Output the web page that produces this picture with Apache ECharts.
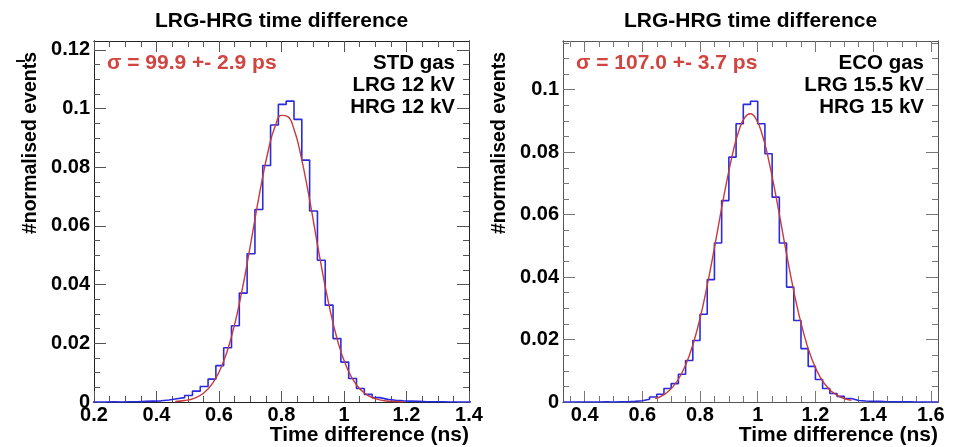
<!DOCTYPE html>
<html><head><meta charset="utf-8">
<script src="https://cdn.jsdelivr.net/npm/echarts@6/dist/echarts.min.js"></script>
<style>html,body{margin:0;padding:0;background:#fff}#c{width:957px;height:447px}</style>
</head><body><div id="c"></div>
<script>
// ---------- data ----------
const leftBinEdges = [0.19,0.215,0.24,0.265,0.29,0.315,0.34,0.365,0.39,0.415,0.44,0.465,0.49,0.515,0.54,0.565,0.59,0.615,0.64,0.665,0.69,0.715,0.74,0.765,0.79,0.815,0.84,0.865,0.89,0.915,0.94,0.965,0.99,1.015,1.04,1.065,1.09,1.115,1.14,1.165,1.19,1.215,1.24,1.265,1.29,1.315,1.34,1.365,1.39,1.415];
const leftBinValues = [0,0,0.0001,0,0.0001,0.0001,0.0002,0.0003,0.0004,0.0007,0.0011,0.0015,0.0022,0.0037,0.0053,0.0078,0.0124,0.0185,0.026,0.0371,0.0505,0.0656,0.0806,0.0944,0.1014,0.1025,0.0963,0.0824,0.0651,0.0483,0.033,0.0216,0.0136,0.008,0.0046,0.0026,0.0015,0.0009,0.0006,0.0004,0.0003,0.0002,0.0001,0.0001,0.0001,0,0,0,0];
const leftFitX = [0.46,0.49,0.52,0.55,0.58,0.61,0.64,0.67,0.70,0.73,0.76,0.78,0.80,0.82,0.84,0.86,0.89,0.92,0.95,0.98,1.01,1.04,1.07,1.10,1.13,1.16,1.19];
const leftFitY = [0.00017,0.00049,0.00126,0.00298,0.0064,0.01251,0.02229,0.03605,0.0531,0.0712,0.0868,0.0940,0.09767,0.09726,0.0929,0.0850,0.0689,0.0507,0.0340,0.0207,0.0115,0.0058,0.00267,0.00112,0.00042,0.00015,0.00005];

const rightBinEdges = [0.325,0.35,0.375,0.4,0.425,0.45,0.475,0.5,0.525,0.55,0.575,0.6,0.625,0.65,0.675,0.7,0.725,0.75,0.775,0.8,0.825,0.85,0.875,0.9,0.925,0.95,0.975,1.0,1.025,1.05,1.075,1.1,1.125,1.15,1.175,1.2,1.225,1.25,1.275,1.3,1.325,1.35,1.375,1.4,1.425,1.45,1.475,1.5,1.525,1.55,1.575,1.6,1.625];
const rightBinValues = [0,0,0,0,0,0.0001,0,0.0001,0.0001,0.0002,0.0004,0.0009,0.0016,0.0025,0.0043,0.0059,0.0089,0.0133,0.0197,0.0281,0.0392,0.0509,0.0645,0.0784,0.0891,0.0953,0.0963,0.0891,0.0795,0.0656,0.0509,0.0368,0.0261,0.0171,0.0114,0.0072,0.0043,0.0027,0.0018,0.0011,0.0005,0.0003,0.0002,0.0002,0.0001,0.0001,0.0001,0.0001,0,0,0,0];
const rightFitX = [0.645,0.675,0.705,0.735,0.765,0.795,0.825,0.855,0.885,0.915,0.935,0.955,0.975,0.995,1.015,1.035,1.065,1.095,1.125,1.155,1.185,1.215,1.245,1.275,1.305,1.325];
const rightFitY = [0.00108,0.00235,0.00475,0.00888,0.01544,0.02493,0.03735,0.05192,0.06702,0.08032,0.08695,0.09107,0.09228,0.09047,0.08581,0.07874,0.06506,0.0499,0.03552,0.02348,0.01441,0.0082,0.00434,0.00213,0.00097,0.00055];

const leftXTicks = [0.2,0.4,0.6,0.8,1,1.2,1.4];
const leftYTicks = [0,0.02,0.04,0.06,0.08,0.1,0.12];
const rightXTicks = [0.4,0.6,0.8,1,1.2,1.4,1.6];
const rightYTicks = [0,0.02,0.04,0.06,0.08,0.1];

const leftXRange = [0.2,1.4], leftYRange = [0,0.123];
const rightXRange = [0.325,1.625], rightYRange = [0,0.1156];

const titleText = 'LRG-HRG time difference';
const xTitle = 'Time difference (ns)';
const yTitle = '#normalised events';
const leftSigma = 'σ = 99.9 +- 2.9 ps';
const rightSigma = 'σ = 107.0 +- 3.7 ps';
const leftLegend = ['STD gas','LRG 12 kV','HRG 12 kV'];
const rightLegend = ['ECO gas','LRG 15.5 kV','HRG 15 kV'];

// ---------- helpers ----------
const FONT = '"Liberation Sans", Arial, Helvetica, sans-serif';
function rangeVals(min,max,step){const o=[];const k0=Math.ceil(min/step-1e-9);for(let k=k0;k*step<=max+1e-9;k++)o.push(+(k*step).toFixed(6));return o;}
function minorsOf(min,max,step,majors){return rangeVals(min,max,step).filter(v=>!majors.some(m=>Math.abs(m-v)<1e-9));}
function axes(dim,grid,rng,majors,minorStep,frameColor,tickColor,majorLen,minorLen){
  const pos = dim==='x'?['bottom','top']:['left','right'];
  const minors = minorsOf(rng[0],rng[1],minorStep,majors);
  const base = {type:'value',gridIndex:grid,min:rng[0],max:rng[1],splitLine:{show:false},
    axisLine:{show:true,onZero:false,lineStyle:{color:frameColor,width:1}}};
  const lab = {show:true,customValues:majors,fontFamily:FONT,fontWeight:'bold',fontSize:20,color:'#000',
    margin:dim==='x'?3:4,formatter:v=>String(+(+v).toFixed(6))};
  const mk=(p,vals,len,label)=>Object.assign({},base,{position:p,
    axisTick:{show:true,inside:true,length:len,customValues:vals,lineStyle:{color:tickColor,width:1}},
    axisLabel:label||{show:false}});
  return [mk(pos[0],majors,majorLen,lab),mk(pos[1],majors,majorLen),mk(pos[0],minors,minorLen),mk(pos[1],minors,minorLen)];
}
function histPts(edges,vals){return edges.map((e,i)=>[e,i<vals.length?vals[i]:vals[vals.length-1]]);}
function fitPts(xs,ys){return xs.map((x,i)=>[x,ys[i]]);}

const G = [{left:94,top:41,width:375,height:361},{left:563,top:41,width:375,height:361}];

function txt(x,y,text,opt){return Object.assign({type:'text',x:x,y:y,style:Object.assign({text:text,font:'bold 20px '+FONT,fill:'#000',textAlign:'left',textVerticalAlign:'middle'},opt||{})});}

const graphics = [];
[[0,leftSigma,leftLegend],[1,rightSigma,rightLegend]].forEach(([gi,sig,leg])=>{
  const g=G[gi]; const cx=g.left+g.width/2, right=g.left+g.width, bottom=g.top+g.height;
  graphics.push(txt(cx,21.5,titleText,{textAlign:'center',font:'bold 21px '+FONT}));
  graphics.push(txt(g.left+13,63,sig,{fill:'#d2443f',font:'bold 21px '+FONT}));
  leg.forEach((t,i)=>graphics.push(txt(right-14,63+22*i,t,{textAlign:'right',font:'bold 20.5px '+FONT})));
  graphics.push(txt(right,435,xTitle,{textAlign:'right',font:'bold 21px '+FONT}));
  graphics.push(Object.assign(txt(g.left-63,52,yTitle,{textAlign:'right',font:'bold 19.5px '+FONT}),{rotation:Math.PI/2}));
});
graphics.push({type:'line',shape:{x1:16,y1:61,x2:25,y2:61},style:{stroke:'#111',lineWidth:2}});

const option = {
  animation:false,
  backgroundColor:'#fff',
  grid:G.map(g=>Object.assign({containLabel:false,outerBoundsMode:'none'},g)),
  xAxis:[...axes('x',0,leftXRange,leftXTicks,0.05,'#222','#555',11,6),
         ...axes('x',1,rightXRange,rightXTicks,0.05,'#555','#777',11,6)],
  yAxis:[...axes('y',0,leftYRange,leftYTicks,0.005,'#222','#555',12,6),
         ...axes('y',1,rightYRange,rightYTicks,0.005,'#555','#777',12,6)],
  series:[
    {type:'line',xAxisIndex:0,yAxisIndex:0,step:'end',data:histPts(leftBinEdges,leftBinValues),symbol:'none',clip:true,
      lineStyle:{color:'#2a2ae0',width:1.6},z:2},
    {type:'line',xAxisIndex:0,yAxisIndex:0,smooth:true,data:fitPts(leftFitX,leftFitY),symbol:'none',clip:true,
      lineStyle:{color:'#c83a3a',width:1.4},z:3},
    {type:'line',xAxisIndex:4,yAxisIndex:4,step:'end',data:histPts(rightBinEdges,rightBinValues),symbol:'none',clip:true,
      lineStyle:{color:'#2a2ae0',width:1.6},z:2},
    {type:'line',xAxisIndex:4,yAxisIndex:4,smooth:true,data:fitPts(rightFitX,rightFitY),symbol:'none',clip:true,
      lineStyle:{color:'#c83a3a',width:1.4},z:3}
  ],
  graphic:graphics
};
const chart = echarts.init(document.getElementById('c'),null,{renderer:'canvas'});
chart.setOption(option);
</script></body></html>
